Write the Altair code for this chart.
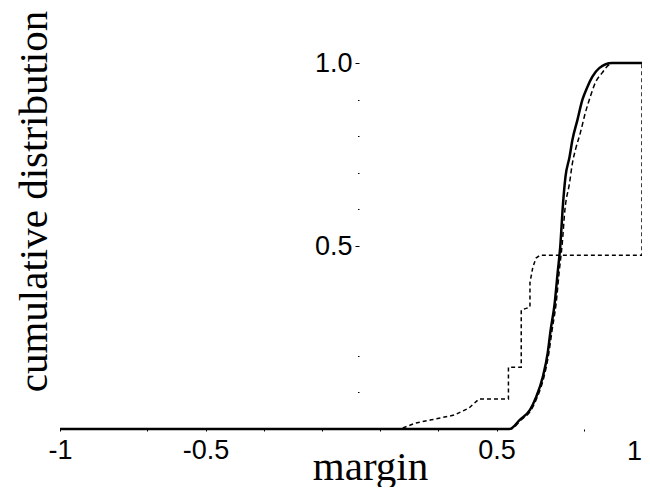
import altair as alt
import pandas as pd

# --- data ---
solid_x = [-1.0, 0.545, 0.58, 0.615, 0.636, 0.659, 0.676, 0.686, 0.700, 0.710, 0.720,
           0.727, 0.737, 0.751, 0.761, 0.778, 0.795, 0.812, 0.829, 0.853, 0.897, 1.0]
solid_y = [0.0, 0.0, 0.025, 0.052, 0.087, 0.142, 0.208, 0.270, 0.344, 0.426, 0.508,
           0.598, 0.689, 0.743, 0.790, 0.844, 0.899, 0.934, 0.962, 0.986, 1.0, 1.0]

dashed_x = [-1.0, 0.549, 0.584, 0.619, 0.640, 0.663, 0.680, 0.691, 0.705, 0.715, 0.726,
            0.735, 0.751, 0.761, 0.771, 0.788, 0.805, 0.822, 0.839, 0.863, 0.886, 0.903, 1.0]
dashed_y = [0.0, 0.0, 0.025, 0.052, 0.087, 0.142, 0.208, 0.270, 0.344, 0.426, 0.508,
            0.598, 0.672, 0.727, 0.762, 0.809, 0.863, 0.907, 0.945, 0.973, 0.995, 1.0, 1.0]

step_x = [-1.0, 0.17, 0.22, 0.276, 0.354, 0.405, 0.44, 0.541, 0.541, 0.585, 0.585,
          0.615, 0.615, 0.625, 0.636, 0.65, 1.0, 1.0]
step_y = [0.0, 0.0, 0.016, 0.025, 0.038, 0.057, 0.082, 0.082, 0.169, 0.169, 0.325,
          0.333, 0.40, 0.443, 0.467, 0.475, 0.475, 1.0]

x_ticks = [-1.0, -0.9, -0.7, -0.6, -0.5, -0.4, -0.3, -0.2, -0.1, 0.0,
           0.1, 0.2, 0.3, 0.4, 0.5, 0.7, 0.8, 1.0]
x_labels = ["-1", "-0.5", "0.5", "1"]
y_ticks = [0.1, 0.2, 0.5, 0.6, 0.7, 0.8, 0.9, 1.0]
y_labelled = [0.5, 1.0]


def frame(xs, ys):
    return pd.DataFrame({"x": xs, "y": ys, "i": list(range(len(xs)))})


x_label_test = " || ".join(f"datum.value == {v}" for v in [-1, -0.5, 0.5])
y_label_test = " || ".join(f"datum.value == {v}" for v in y_labelled)

x_scale = alt.Scale(domain=[-1, 1], nice=False, zero=False)
y_scale = alt.Scale(domain=[0, 1], nice=False, zero=False)

x_axis = alt.Axis(
    values=x_ticks,
    labelExpr=f"({x_label_test}) ? toString(datum.value) : ''",
    domain=False, grid=False,
    tickSize=2, tickColor="black", tickWidth=1,
    labelFont="Liberation Sans", labelFontSize=27, labelColor="black",
    labelPadding=6, labelFlush=False, labelOverlap=False,
    title="margin", titleFont="Liberation Serif", titleFontSize=41,
    titleFontWeight="normal", titleColor="black",
    titleX=310, titleY=50, titleBaseline="alphabetic", titleAlign="center",
)

y_axis = alt.Axis(
    values=y_ticks,
    labelExpr=f"({y_label_test}) ? format(datum.value, '.1f') : ''",
    domain=False, grid=False, offset=-299,
    tickSize={"condition": {"test": y_label_test, "value": 4}, "value": 1.5},
    tickColor="black", tickWidth=1,
    labelFont="Liberation Sans", labelFontSize=27, labelColor="black",
    labelPadding=3, labelFlush=False, labelOverlap=False,
    title="cumulative distribution", titleFont="Liberation Serif", titleFontSize=41,
    titleFontWeight="normal", titleColor="black",
    titleX=-313, titleY=138, titleAngle=270, titleBaseline="alphabetic",
    titleAlign="center",
)

step_line = alt.Chart(frame(step_x, step_y)).mark_line(
    color="black", strokeWidth=1.5, strokeDash=[4, 3]
).encode(
    x=alt.X("x:Q", scale=x_scale, axis=x_axis),
    y=alt.Y("y:Q", scale=y_scale, axis=y_axis),
    order="i:Q",
)

dashed_line = alt.Chart(frame(dashed_x, dashed_y)).mark_line(
    color="black", strokeWidth=1.5, strokeDash=[5, 3], interpolate="monotone"
).encode(
    x=alt.X("x:Q", scale=x_scale),
    y=alt.Y("y:Q", scale=y_scale),
    order="i:Q",
)

solid_line = alt.Chart(frame(solid_x, solid_y)).mark_line(
    color="black", strokeWidth=2.5, interpolate="monotone"
).encode(
    x=alt.X("x:Q", scale=x_scale),
    y=alt.Y("y:Q", scale=y_scale),
    order="i:Q",
)

# the right-end tick label "1", which sits at the very edge of the plot
end_label = alt.Chart(pd.DataFrame({"x": [1.0], "y": [0.0], "t": [x_labels[-1]]})).mark_text(
    font="Liberation Sans", fontSize=27, color="black",
    align="right", baseline="top", dy=10,
).encode(
    x=alt.X("x:Q", scale=x_scale),
    y=alt.Y("y:Q", scale=y_scale),
    text="t:N",
)

chart = alt.layer(step_line, dashed_line, solid_line, end_label).properties(
    width=582, height=366,
    autosize=alt.AutoSizeParams(type="none"),
    padding={"left": 52, "top": 55, "right": 0, "bottom": 58},
    background="white",
).configure_view(stroke=None)

chart.save("out.html", embed_options={"renderer": "svg", "actions": False})
